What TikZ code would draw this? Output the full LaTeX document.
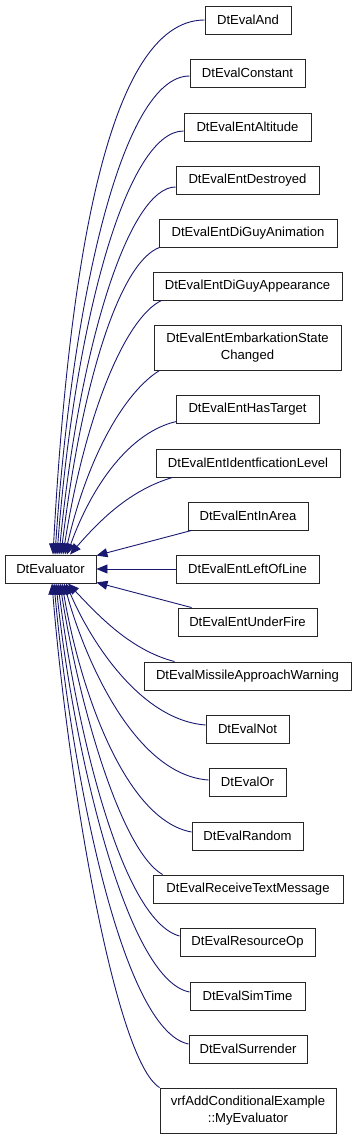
\documentclass[tikz,border=0pt]{standalone}
\usepackage{fontspec}
\setmainfont{Liberation Sans}
\usetikzlibrary{arrows.meta}
\definecolor{edgecol}{HTML}{191970}
\begin{document}
\begin{tikzpicture}[x=1pt,y=-1pt,
  box/.style={draw=black!85,line width=0.9pt,fill=white,inner sep=0pt,minimum height=28pt,
    font=\fontsize{13.1}{16.5}\selectfont,align=center},
  edge/.style={draw=edgecol,line width=0.9pt,-{Triangle[length=11pt,width=9pt]}}]
\useasboundingbox (0,0) rectangle (357,1139);
% nodes
\node[box,minimum width=91pt]  (ev)   at (50.5,569) {DtEvaluator};
\node[box,minimum width=86pt]  (and)  at (248,20) {DtEvalAnd};
\node[box,minimum width=115pt] (cons) at (247.5,73) {DtEvalConstant};
\node[box,minimum width=127pt] (alt)  at (247.5,127) {DtEvalEntAltitude};
\node[box,minimum width=143pt] (des)  at (247.5,180) {DtEvalEntDestroyed};
\node[box,minimum width=178pt] (anim) at (248,233) {DtEvalEntDiGuyAnimation};
\node[box,minimum width=189pt] (app)  at (247.5,286) {DtEvalEntDiGuyAppearance};
\node[box,minimum width=187pt,minimum height=45pt] (emb) at (247.5,347.5) {DtEvalEntEmbarkationState\\Changed};
\node[box,minimum width=143pt] (tgt)  at (247.5,409) {DtEvalEntHasTarget};
\node[box,minimum width=184pt] (idl)  at (248,463) {DtEvalEntIdentficationLevel};
\node[box,minimum width=120pt] (area) at (248,516) {DtEvalEntInArea};
\node[box,minimum width=143pt] (left) at (247.5,569) {DtEvalEntLeftOfLine};
\node[box,minimum width=139pt] (fire) at (247.5,622) {DtEvalEntUnderFire};
\node[box,minimum width=207pt] (mis)  at (247.5,676) {DtEvalMissileApproachWarning};
\node[box,minimum width=83pt]  (not)  at (247.5,729) {DtEvalNot};
\node[box,minimum width=77pt]  (or)   at (247.5,782) {DtEvalOr};
\node[box,minimum width=111pt] (rnd)  at (247.5,836) {DtEvalRandom};
\node[box,minimum width=190pt] (rtm)  at (248,889) {DtEvalReceiveTextMessage};
\node[box,minimum width=135pt] (res)  at (247.5,942) {DtEvalResourceOp};
\node[box,minimum width=115pt] (sim)  at (247.5,996) {DtEvalSimTime};
\node[box,minimum width=118pt] (sur)  at (248,1049) {DtEvalSurrender};
\node[box,minimum width=176pt,minimum height=45pt] (my) at (248,1110.5) {vrfAddConditionalExample\\::MyEvaluator};
% upper edges
\draw[edge] (and.west) .. controls (105,20) and (68,280) .. ([shift={(2.5,0)}]ev.north);
\draw[edge] ([shift={(0,3)}]cons.west) .. controls (122,76) and (72,300) .. ([shift={(4.5,0)}]ev.north);
\draw[edge] ([shift={(0,4)}]alt.west) .. controls (127,131) and (75,320) .. ([shift={(6.5,0)}]ev.north);
\draw[edge] ([shift={(0,7)}]des.west) .. controls (130,187) and (80,340) .. ([shift={(8.5,0)}]ev.north);
\draw[edge] ([shift={(1,0)}]anim.south west) .. controls (120,262) and (82,380) .. ([shift={(10.5,0)}]ev.north);
\draw[edge] ([shift={(9,0)}]app.south west) .. controls (125,318) and (85,415) .. ([shift={(12.5,0)}]ev.north);
\draw[edge] ([shift={(6,0)}]emb.south west) .. controls (125,392) and (88,455) .. ([shift={(14.5,0)}]ev.north);
\draw[edge] ([shift={(1,-2)}]tgt.south west) .. controls (130,432) and (92,485) .. ([shift={(16.5,0)}]ev.north);
\draw[edge] ([shift={(17,0)}]idl.south west) .. controls (130,490) and (100,520) .. ([shift={(19.5,0)}]ev.north);
% side edges
\draw[edge] ([shift={(4,0)}]area.south west) -- ([shift={(0,1)}]ev.north east);
\draw[edge] (left.west) -- (ev.east);
\draw[edge] ([shift={(14,0)}]fire.north west) -- ([shift={(0,-1)}]ev.south east);
% lower edges
\draw[edge] ([shift={(31,0)}]mis.north west) .. controls (130,650) and (98,615) .. ([shift={(17.5,0)}]ev.south);
\draw[edge] ([shift={(0,-4)}]not.west) .. controls (140,720) and (90,640) .. ([shift={(15.5,0)}]ev.south);
\draw[edge] ([shift={(0,-2)}]or.west) .. controls (135,775) and (85,660) .. ([shift={(13.5,0)}]ev.south);
\draw[edge] ([shift={(0,-4)}]rnd.west) .. controls (125,820) and (80,690) .. ([shift={(11.5,0)}]ev.south);
\draw[edge] ([shift={(10,0)}]rtm.north west) .. controls (120,850) and (78,700) .. ([shift={(9.5,0)}]ev.south);
\draw[edge] ([shift={(0,-6)}]res.west) .. controls (120,920) and (75,720) .. ([shift={(7.5,0)}]ev.south);
\draw[edge] ([shift={(0,-4)}]sim.west) .. controls (125,980) and (72,740) .. ([shift={(5.5,0)}]ev.south);
\draw[edge] ([shift={(0,-5)}]sur.west) .. controls (120,1030) and (70,760) .. ([shift={(3.5,0)}]ev.south);
\draw[edge] (my.north west) .. controls (115,1060) and (68,780) .. ([shift={(1.5,0)}]ev.south);
\end{tikzpicture}
\end{document}
